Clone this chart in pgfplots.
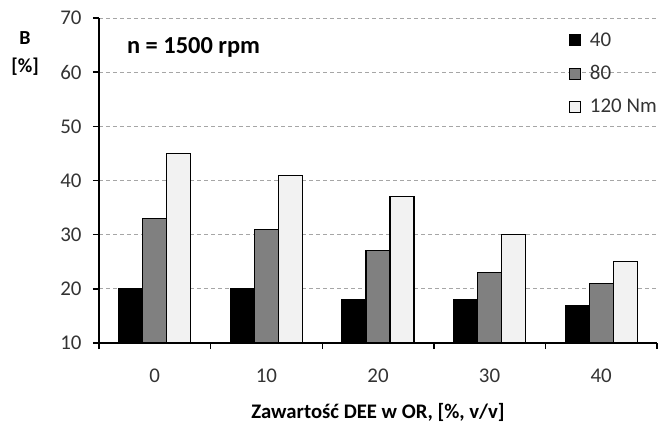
\documentclass[border=0pt]{standalone}
\usepackage{fontspec}
\setmainfont{Carlito}
\usepackage{pgfplots}
\pgfplotsset{compat=1.18}
\definecolor{barmid}{HTML}{808080}
\definecolor{barlight}{HTML}{F2F2F2}
\definecolor{ticktext}{HTML}{333333}
\begin{document}
\begin{tikzpicture}
\useasboundingbox (-99bp,-82bp) rectangle (559bp,343bp);
\begin{axis}[
    at={(0,0)}, anchor=south west,
    scale only axis, width=558bp, height=325bp,
    ymin=10, ymax=70, ytick={10,20,...,70},
    xmin=-0.5, xmax=4.5,
    xtick={-0.5,0.5,...,4.5},
    x tick label as interval,
    xticklabels={0,10,20,30,40},
    axis x line=bottom, axis y line=left,
    axis line style={-, line width=1.6bp, black},
    tick align=outside, major tick length=6bp,
    tick style={line width=1.4bp, black},
    ymajorgrids,
    grid style={dash pattern=on 4bp off 3bp, gray!70, line width=0.7bp},
    /pgf/number format/assume math mode=true,
    ticklabel style={font=\fontsize{21}{25}\selectfont, text=ticktext},
    yticklabel style={xshift=-8bp},
    xticklabel style={yshift=-16bp},
    xlabel={\textbf{Zawartość DEE w OR, [\%, v/v]}},
    xlabel style={at={(axis description cs:0.5,-0.232)}, anchor=base, font=\fontsize{20.8}{24}\selectfont},
    ylabel={\textbf{B}\\[4bp]\textbf{[\%]}},
    ylabel style={rotate=-90, at={(axis description cs:-0.1326,0.892)}, anchor=center, align=center, font=\fontsize{20}{24}\selectfont},
    ybar, bar width=0.215,
    legend image code/.code={\draw[#1, line width=0.8bp] (0bp,-5.5bp) rectangle (11bp,5.5bp); \path (18bp,0bp);},
    legend style={draw=none, fill=none, at={(axis description cs:0.842,0.962)}, anchor=north west,
        font=\fontsize{21}{25}\selectfont, text=ticktext, row sep=14bp, inner sep=0pt},
    legend cell align=left,
    clip=false,
]
\addplot[draw=black, line width=1.1bp, fill=black, bar shift=-0.215]
    coordinates {(0,20) (1,20) (2,18) (3,18) (4,17)};
\addplot[draw=black, line width=1.1bp, fill=barmid, bar shift=0]
    coordinates {(0,33) (1,31) (2,27) (3,23) (4,21)};
\addplot[draw=black, line width=1.1bp, fill=barlight, bar shift=0.215]
    coordinates {(0,45) (1,41) (2,37) (3,30) (4,25)};
\legend{40, 80, 120 Nm}
\node[anchor=base west, inner sep=0pt, font=\bfseries\fontsize{24.5}{28}\selectfont]
    at (axis description cs:0.05,0.892) {n = 1500 rpm};
\end{axis}
\end{tikzpicture}
\end{document}
